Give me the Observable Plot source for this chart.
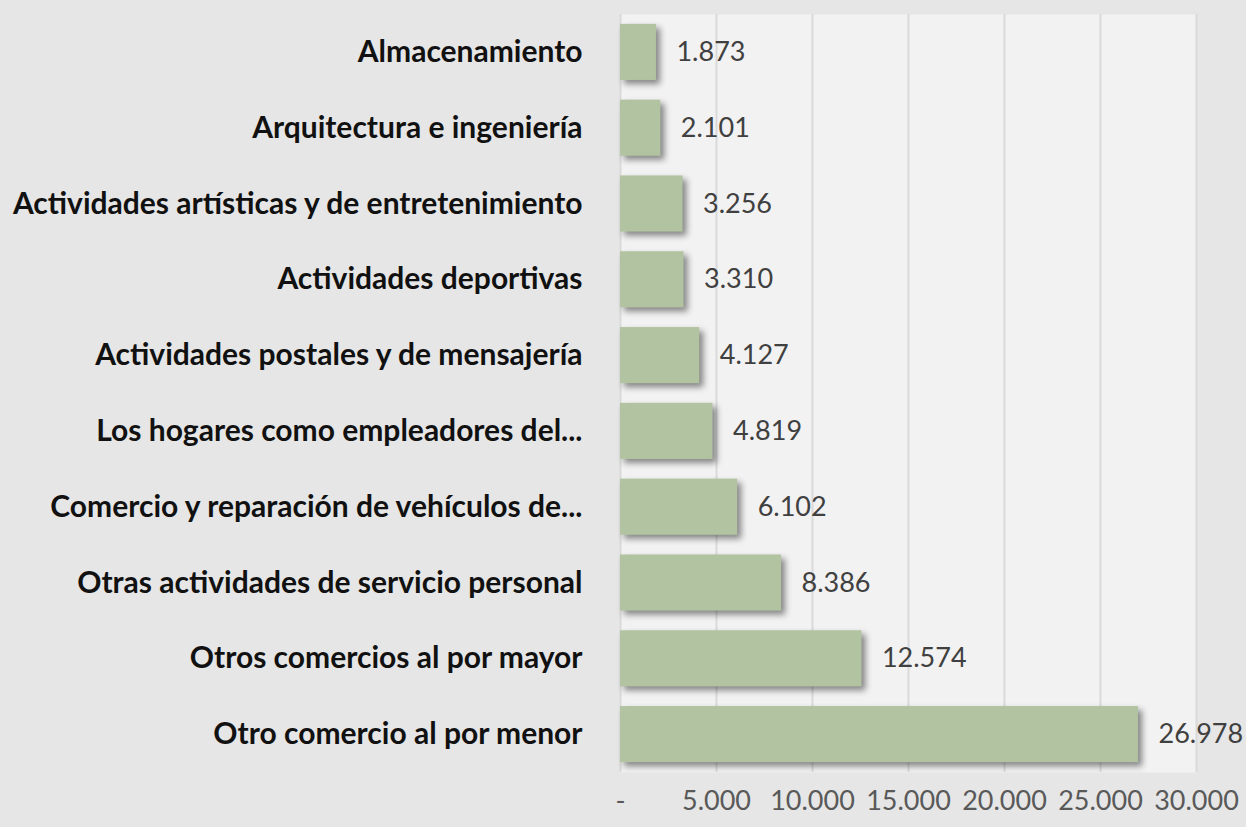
<!DOCTYPE html>
<html><head><meta charset="utf-8">
<script src="https://cdn.jsdelivr.net/npm/d3@7"></script>
<script src="https://cdn.jsdelivr.net/npm/@observablehq/plot@0.6"></script>
<style>
html,body{margin:0;padding:0;background:#e6e6e6;}
#chart{width:1246px;height:827px;}
</style></head>
<body><div id="chart"></div>
<script>
const categories = [
  "Almacenamiento",
  "Arquitectura e ingeniería",
  "Actividades artísticas y de entretenimiento",
  "Actividades deportivas",
  "Actividades postales y de mensajería",
  "Los hogares como empleadores del...",
  "Comercio y reparación de vehículos de...",
  "Otras actividades de servicio personal",
  "Otros comercios al por mayor",
  "Otro comercio al por menor"
];
const values = [1873, 2101, 3256, 3310, 4127, 4819, 6102, 8386, 12574, 26978];
const xTicks = [0, 5000, 10000, 15000, 20000, 25000, 30000];

const data = categories.map((c, i) => ({cat: c, value: values[i]}));
const fmt = v => v === 0 ? "-" : d3.format(",")(v).replace(/,/g, ".");

const chart = Plot.plot({
  width: 1246,
  height: 827,
  marginLeft: 620,
  marginRight: 50,
  marginTop: 14,
  marginBottom: 55,
  style: {background: "#e6e6e6", fontFamily: "Lato, 'Open Sans', sans-serif"},
  x: {domain: [0, 30000], ticks: xTicks, tickFormat: fmt, label: null},
  y: {domain: categories, paddingInner: 0.26, paddingOuter: 0.13, round: false, label: null},
  marks: [
    Plot.frame({fill: "#f2f2f2", stroke: null}),
    Plot.ruleX(xTicks, {stroke: "#d9d9d9", strokeWidth: 2}),
    Plot.barX(data, {x: "value", y: "cat", fill: "#b1c3a0"}),
    Plot.text(data, {x: "value", y: "cat", text: d => fmt(d.value), textAnchor: "start", dx: 20, fill: "#404040", fontSize: 27}),
    Plot.axisX({ticks: xTicks, tickFormat: fmt, tickSize: 0, tickPadding: 18, fontSize: 27, fill: "#595959", label: null}),
    Plot.axisY({tickSize: 0, tickPadding: 38, fontSize: 30, fontWeight: "bold", fill: "#111", label: null})
  ]
});
const barG = chart.querySelector('g[aria-label="bar"]');
if (barG) barG.style.filter = "drop-shadow(4px 4px 3px rgba(0,0,0,0.45))";
document.getElementById("chart").appendChild(chart);
</script>
</body></html>
